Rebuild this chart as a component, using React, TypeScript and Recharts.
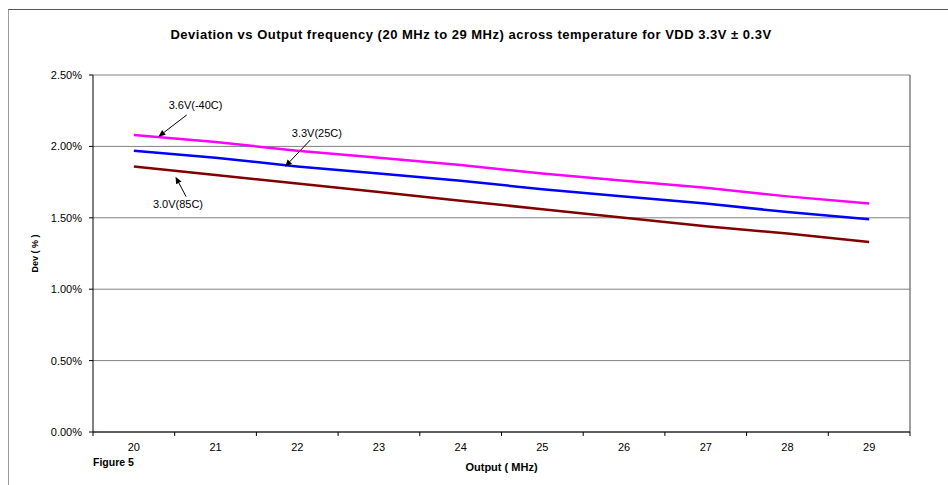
import { LineChart, Line, XAxis, YAxis, CartesianGrid, ReferenceLine, ReferenceDot, Label } from 'recharts'

// output frequency (MHz)
const freqs = [20, 21, 22, 23, 24, 25, 26, 27, 28, 29]
// deviation in %
const dev36 = [2.08, 2.03, 1.97, 1.92, 1.87, 1.81, 1.76, 1.71, 1.65, 1.6]
const dev33 = [1.97, 1.92, 1.86, 1.81, 1.76, 1.7, 1.65, 1.6, 1.54, 1.49]
const dev30 = [1.86, 1.8, 1.74, 1.68, 1.62, 1.56, 1.5, 1.44, 1.39, 1.33]

const yTicks = [0, 0.5, 1, 1.5, 2, 2.5]
// tick marks sit between the categories
const bandEdges = [19.5, 20.5, 21.5, 22.5, 23.5, 24.5, 25.5, 26.5, 27.5, 28.5, 29.5]

const data = freqs.map((f, i) => ({ f, v36: dev36[i], v33: dev33[i], v30: dev30[i] }))

// callouts, in data units (x = MHz, y = %)
const notes = [
  { text: '3.6V(-40C)', tx: 20.755, ty: 2.29, from: [20.647, 2.22], to: [20.3, 2.068] },
  { text: '3.3V(25C)', tx: 22.24, ty: 2.094, from: [22.16, 2.045], to: [21.85, 1.858] },
  { text: '3.0V(85C)', tx: 20.54, ty: 1.597, from: [20.64, 1.648], to: [20.51, 1.788] },
]

const font = '"Liberation Sans", Arial, sans-serif'

function Arrow(props: any) {
  const { x1, y1, x2, y2 } = props
  const ang = Math.atan2(y2 - y1, x2 - x1)
  const len = 7
  const w = 3
  const bx = x2 - len * Math.cos(ang)
  const by = y2 - len * Math.sin(ang)
  const px = -Math.sin(ang) * w
  const py = Math.cos(ang) * w
  return (
    <g>
      <line x1={x1} y1={y1} x2={bx} y2={by} stroke="#000" strokeWidth={1} />
      <polygon points={`${x2},${y2} ${bx + px},${by + py} ${bx - px},${by - py}`} fill="#000" />
    </g>
  )
}

export default function App() {
  return (
    <div style={{ position: 'relative', width: 948, height: 485, background: '#fff', fontFamily: font }}>
      <style>{'body{margin:0}'}</style>
      <div style={{ position: 'absolute', left: 8, top: 9, right: 0, bottom: 0, borderTop: '1px solid #555', borderLeft: '1px solid #999' }} />
      <div style={{ position: 'absolute', top: 27, left: 0, width: 942, textAlign: 'center', fontSize: 13, fontWeight: 'bold', letterSpacing: 0.5 }}>
        Deviation vs Output frequency (20 MHz to 29 MHz) across temperature for VDD 3.3V ± 0.3V
      </div>
      <div style={{ position: 'absolute', top: 456, left: 93, fontSize: 10.5, fontWeight: 'bold' }}>Figure 5</div>
      <LineChart width={948} height={485} data={data} margin={{ top: 75, right: 38, left: 0, bottom: 8 }}
        style={{ position: 'absolute', left: 0, top: 0, fontFamily: font }}>
        <CartesianGrid xAxisId="edge" vertical={false} stroke="#808080" />
        <XAxis xAxisId="edge" type="number" dataKey="f" domain={[19.5, 29.5]} ticks={bandEdges}
          tick={() => <g />} tickSize={4} height={5} stroke="#000" />
        <XAxis xAxisId="lab" type="number" dataKey="f" domain={[19.5, 29.5]} ticks={freqs}
          axisLine={false} tickLine={false} tickSize={0} tickMargin={6} height={40}
          tick={{ fontSize: 11, fill: '#000' }}>
          <Label value="Output (  MHz)" position="insideBottom" offset={6}
            style={{ fontSize: 11, fontWeight: 'bold', fill: '#000' }} />
        </XAxis>
        <YAxis type="number" domain={[0, 2.5]} ticks={yTicks} width={93} tickSize={4} tickMargin={7}
          stroke="#000" tick={{ fontSize: 11, fill: '#000' }} tickFormatter={(v: number) => `${v.toFixed(2)}%`}>
          <Label value="Dev ( % )" angle={-90} position="insideLeft" offset={35}
            style={{ fontSize: 9, fontWeight: 'bold', fill: '#000', textAnchor: 'middle' }} />
        </YAxis>
        <ReferenceLine xAxisId="edge" x={29.5} stroke="#808080" strokeWidth={1.5} />
        <Line xAxisId="edge" dataKey="v36" stroke="#ff00ff" strokeWidth={2.5} dot={false} isAnimationActive={false} />
        <Line xAxisId="edge" dataKey="v33" stroke="#0000ff" strokeWidth={2.5} dot={false} isAnimationActive={false} />
        <Line xAxisId="edge" dataKey="v30" stroke="#800000" strokeWidth={2.5} dot={false} isAnimationActive={false} />
        {notes.map((n) => (
          <ReferenceLine key={n.text + 'a'} xAxisId="edge"
            segment={[{ x: n.from[0], y: n.from[1] }, { x: n.to[0], y: n.to[1] }]}
            shape={(p: any) => <Arrow {...p} />} />
        ))}
        {notes.map((n) => (
          <ReferenceDot key={n.text} xAxisId="edge" x={n.tx} y={n.ty} r={0} stroke="none" fill="none"
            label={{ value: n.text, position: 'center', fontSize: 11, fill: '#000' }} />
        ))}
      </LineChart>
    </div>
  )
}
